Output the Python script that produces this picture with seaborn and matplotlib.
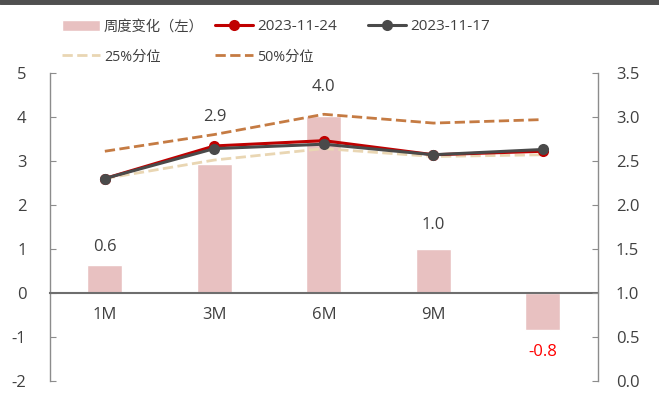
import matplotlib
matplotlib.use("Agg")
import matplotlib.pyplot as plt
import pandas as pd
import seaborn as sns
from matplotlib.lines import Line2D

tenors = ["1M", "3M", "6M", "9M", "1Y"]
weekly_change = [0.63, 2.93, 4.02, 1.0, -0.84]
rate_1124 = [2.30, 2.67, 2.73, 2.57, 2.61]
rate_1117 = [2.30, 2.64, 2.69, 2.57, 2.63]
pct25 = [2.30, 2.51, 2.64, 2.55, 2.57]
pct50 = [2.61, 2.80, 3.03, 2.93, 2.97]
bar_labels = ["0.6", "2.9", "4.0", "1.0", "-0.8"]

GRAY = "#404040"
FS = 12

sns.set_style("white")
plt.rcParams["font.family"] = ["Open Sans", "Noto Sans CJK SC", "DejaVu Sans"]
plt.rcParams["axes.unicode_minus"] = False

df = pd.DataFrame({"tenor": tenors, "change": weekly_change})

fig = plt.figure(figsize=(6.59, 4.03), dpi=100)
ax = fig.add_axes([0.076, 0.055, 0.831, 0.764])

sns.barplot(data=df, x="tenor", y="change", color="#E8C1C1", width=0.32,
            saturation=1, ax=ax, label="周度变化（左）")
ax.set_ylim(-2, 5)
ax.set_xlim(-0.5, 4.5)
ax.set_yticks(range(-2, 6))
ax.set_xlabel("")
ax.set_ylabel("")

ax2 = ax.twinx()
ax2.set_position(ax.get_position())
x = list(range(len(tenors)))
sns.lineplot(x=x, y=pct25, ax=ax2, color="#E9D6B3", lw=2, dashes=(4, 3),
             linestyle="--", label="25%分位")
sns.lineplot(x=x, y=pct50, ax=ax2, color="#C57B43", lw=2, dashes=(4, 3),
             linestyle="--", label="50%分位")
sns.lineplot(x=x, y=rate_1124, ax=ax2, color="#C00000", lw=2.2, marker="o",
             markersize=8, markeredgewidth=0, label="2023-11-24")
sns.lineplot(x=x, y=rate_1117, ax=ax2, color="#4A4A4A", lw=2.2, marker="o",
             markersize=8, markeredgewidth=0, label="2023-11-17")
ax2.set_ylim(0, 3.5)
ax2.set_yticks([0, 0.5, 1.0, 1.5, 2.0, 2.5, 3.0, 3.5])
ax2.set_yticklabels([f"{t:.1f}" for t in ax2.get_yticks()])
ax2.set_xlim(-0.5, 4.5)

# bar value labels (placed like Excel, clear of the lines)
label_off = [13, 34, 21, 17, -16]
for i, v in enumerate(weekly_change):
    ax2.annotate(bar_labels[i], (i, v), xycoords=ax.transData,
                 xytext=(0, label_off[i]), textcoords="offset points",
                 ha="center", va="center", fontsize=FS,
                 color=GRAY if v >= 0 else "#FF0000")

# spines / ticks
for a in (ax, ax2):
    a.spines["top"].set_visible(False)
    for s in ("left", "right"):
        a.spines[s].set_color("#8C8C8C")
        a.spines[s].set_linewidth(1)
ax.spines["right"].set_visible(False)
ax2.spines["left"].set_visible(False)
ax2.spines["bottom"].set_visible(False)
ax.spines["bottom"].set_position(("data", 0))
ax.spines["bottom"].set_color("#6E6E6E")
ax.spines["bottom"].set_linewidth(1.5)

ax.tick_params(axis="y", direction="in", length=4, color="#8C8C8C",
               labelsize=FS, labelcolor=GRAY, pad=17)
ax2.tick_params(axis="y", direction="in", length=4, color="#8C8C8C",
                labelsize=FS, labelcolor=GRAY, pad=13)
ax.set_xticks([0.5, 1.5, 2.5, 3.5], minor=True)
ax.tick_params(axis="x", which="major", length=0, labelsize=FS, labelcolor=GRAY, pad=10)
ax.tick_params(axis="x", which="minor", direction="out", length=4, color="#6E6E6E")

# legend: one small legend per entry so the grid lines up like the original
ax.get_legend() and ax.get_legend().remove()
ax2.get_legend() and ax2.get_legend().remove()
h1, l1 = ax.get_legend_handles_labels()
h2, l2 = ax2.get_legend_handles_labels()
hd = dict(zip(l1 + l2, h1 + h2))
entries = [("周度变化（左）", 62, 27, 10.3), ("2023-11-24", 215, 27, 11),
           ("2023-11-17", 368, 27, 11), ("25%分位", 62, 57, 10.3),
           ("50%分位", 215, 57, 10.3)]
for lab, px, py, fs in entries:
    em = fs * 100 / 72
    fig.legend([hd[lab]], [lab], loc="center left",
               bbox_to_anchor=(px / 659, 1 - py / 403), frameon=False,
               prop={"size": fs}, labelcolor=GRAY, handlelength=38 / em,
               handletextpad=4 / em, borderpad=0, borderaxespad=0)

# dark stripe at top of figure
fig.add_artist(Line2D([0, 1], [0.997, 0.997], transform=fig.transFigure,
                      color="#505050", lw=5))

fig.savefig("out.png", dpi=100)
